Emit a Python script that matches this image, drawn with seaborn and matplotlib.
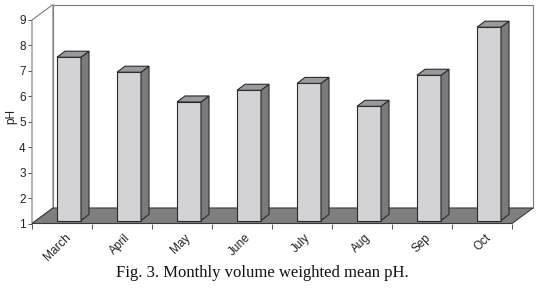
import numpy as np
import pandas as pd
import matplotlib
matplotlib.use("Agg")
import matplotlib.pyplot as plt
import seaborn as sns
from matplotlib.patches import Polygon
from matplotlib.transforms import ScaledTranslation

months = ["March", "April", "May", "June", "July", "Aug", "Sep", "Oct"]
ph = [7.42, 6.83, 5.66, 6.12, 6.39, 5.49, 6.71, 8.60]
yticks = [1, 2, 3, 4, 5, 6, 7, 8, 9]
caption = "Fig. 3. Monthly volume weighted mean pH."

sns.set_theme(style="white")
plt.rcParams['font.family'] = ['Liberation Sans', 'DejaVu Sans']

W, H = 537, 289
fig = plt.figure(figsize=(W / 100, H / 100), dpi=100)
ax = fig.add_axes([32 / W, (H - 223.5) / H, 480 / W, 203.5 / H])

df = pd.DataFrame({"month": months, "pH": ph})
sns.barplot(data=df, x="month", y="pH", color="#d3d3d5", saturation=1,
            width=0.4, edgecolor="#2a2a2a", linewidth=0.8, ax=ax, zorder=3)

n = len(months)
ymin, ymax = yticks[0], yticks[-1]
ax.set_xlim(-0.5, n - 0.5)
ax.set_ylim(ymin, ymax)

# pixel -> data unit conversion for the oblique depth
ux = n / 480.0
uy = (ymax - ymin) / 203.5
Dx, Dy = 21 * ux, 15.5 * uy      # full depth of the chart box
b0x, b0y = 7 * ux, 3 * uy        # bar front offset in depth
bdx, bdy = 8 * ux, 6 * uy        # bar depth

x0, x1 = -0.5, n - 0.5
wall_edge = "#7a7a7a"
# back wall
ax.add_patch(Polygon([(x0 + Dx, ymin + Dy), (x1 + Dx, ymin + Dy), (x1 + Dx, ymax + Dy),
                      (x0 + Dx, ymax + Dy)], closed=True, facecolor="white",
                     edgecolor=wall_edge, lw=0.8, clip_on=False, zorder=0.5))
# side wall
ax.add_patch(Polygon([(x0, ymin), (x0, ymax), (x0 + Dx, ymax + Dy), (x0 + Dx, ymin + Dy)],
                     closed=True, facecolor="white", edgecolor=wall_edge, lw=0.8,
                     clip_on=False, zorder=0.6))
# floor
ax.add_patch(Polygon([(x0, ymin), (x1, ymin), (x1 + Dx, ymin + Dy), (x0 + Dx, ymin + Dy)],
                     closed=True, facecolor="#7f7f7f", edgecolor="#3a3a3a", lw=0.8,
                     clip_on=False, zorder=1))

for p in ax.patches[:]:
    if isinstance(p, Polygon):
        continue
    xl = p.get_x()
    w = p.get_width()
    v = p.get_height()
    xl2 = xl + b0x
    yb = ymin + b0y
    yt = v + b0y
    p.set_x(xl2)
    p.set_y(yb)
    p.set_height(yt - yb)
    p.set_clip_on(False)
    xr = xl2 + w
    ax.add_patch(Polygon([(xr, yb), (xr, yt), (xr + bdx, yt + bdy), (xr + bdx, yb + bdy)],
                         closed=True, facecolor="#7b7b7d", edgecolor="#2a2a2a", lw=0.8,
                         clip_on=False, zorder=3))
    ax.add_patch(Polygon([(xl2, yt), (xr, yt), (xr + bdx, yt + bdy), (xl2 + bdx, yt + bdy)],
                         closed=True, facecolor="#9a9a9c", edgecolor="#2a2a2a", lw=0.8,
                         clip_on=False, zorder=3))

for s in ax.spines.values():
    s.set_visible(False)

ax.set_yticks(yticks)
ax.set_yticklabels([str(t) for t in yticks])
ax.tick_params(axis="y", which="major", left=True, direction="out", length=3,
               width=0.7, color="#555555", labelsize=8.5, pad=1.5, labelcolor="#222222")

ax.set_xticks(np.arange(n + 1) - 0.5)
ax.set_xticklabels([""] * (n + 1))
ax.set_xticks(np.arange(n), months, minor=True)
ax.tick_params(axis="x", which="major", bottom=True, direction="out", length=3.5,
               width=0.7, color="#555555")
ax.tick_params(axis="x", which="minor", bottom=True, length=0, pad=6,
               labelsize=8.5, labelcolor="#222222")
for lbl in ax.get_xticklabels(minor=True):
    lbl.set_rotation(45)
    lbl.set_ha("right")
    lbl.set_rotation_mode("anchor")
    lbl.set_transform(lbl.get_transform() + ScaledTranslation(0.025, 0, fig.dpi_scale_trans))

ax.set_xlabel("")
ax.set_ylabel("pH", fontsize=8.5, color="#222222")
ax.yaxis.label.set_va("center")
ax.yaxis.set_label_coords((11.5 - 32) / 480, (223.5 - 117) / 203.5)

fig.text(262 / W, 1 - 273 / H, caption, ha="center", va="center",
         family=["Liberation Serif", "DejaVu Serif"], fontsize=12, color="#111111")

fig.savefig("out.png", dpi=100)
